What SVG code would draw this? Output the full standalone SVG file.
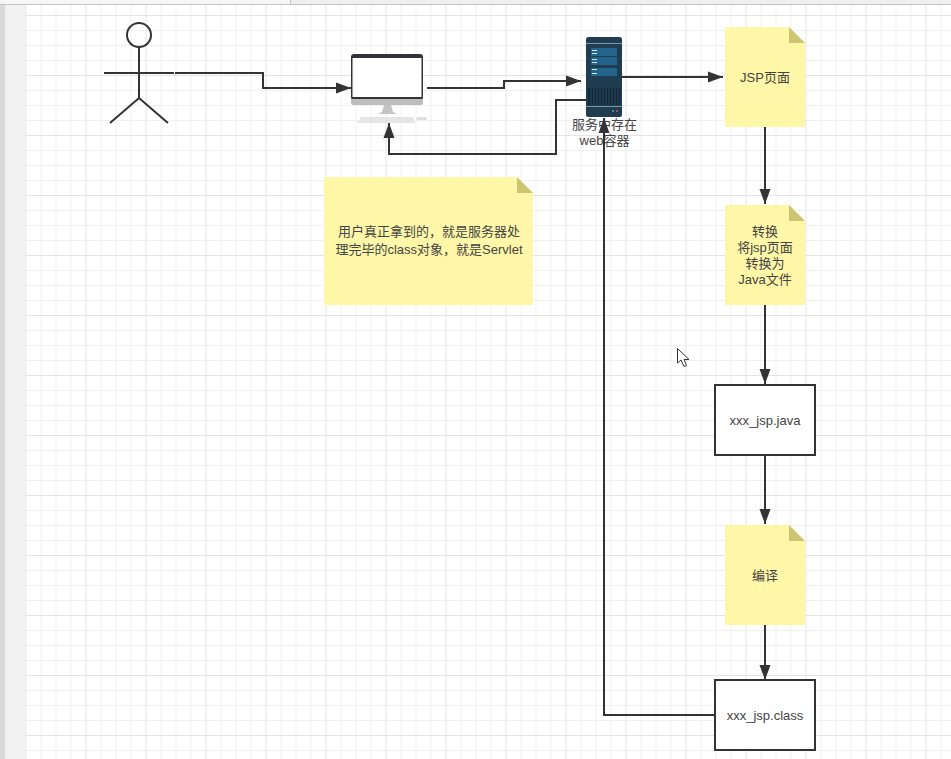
<svg xmlns="http://www.w3.org/2000/svg" width="951" height="759" viewBox="0 0 951 759">
<style>
text{font-family:"Liberation Sans","Noto Sans CJK SC",sans-serif;font-size:13px;fill:#444;text-anchor:middle}
.c{fill:none;stroke:#333;stroke-width:2;marker-end:url(#a)}
.a{fill:none;stroke:#333;stroke-width:2}
.s{fill:#fff7a8}
.f{fill:#ccc673}
.b{fill:#fff;stroke:#333;stroke-width:2}
.p{fill:#22648a}
.m{fill:#d5e3ea}
</style>
<defs>
<pattern id="g" x="25.5" y="0" width="60" height="60" patternUnits="userSpaceOnUse">
<path d="M15.5 0V60M30.5 0V60M45.5 0V60M0 30.5H60M0 45.5H60M0 0.500H60" fill="none" stroke="#f0f0f0" stroke-width="1"/>
<path d="M0.5 0V60M0 15.500H60" fill="none" stroke="#e4e4e4" stroke-width="1"/>
</pattern>
<marker id="a" markerUnits="userSpaceOnUse" markerWidth="16" markerHeight="12" refX="15" refY="6" orient="auto">
<path d="M0 0.500L15 6L0 11.500Z" fill="#333"/>
</marker>
</defs>
<rect width="951" height="759" fill="#fff"/>
<rect x="25" y="4" width="926" height="755" fill="url(#g)"/>
<rect x="5" y="4" width="20" height="755" fill="#f1f1f1"/>
<rect x="0" y="4" width="5" height="755" fill="#d9d9da"/>
<rect width="951" height="4" fill="#efefef"/>
<rect width="290" height="4" fill="#f6f6f6"/>
<path d="M290.500 0V4" stroke="#c8c8c8" stroke-width="1"/>
<path d="M0 4.500H951" stroke="#c4c4c4" stroke-width="1"/>

<g id="connectors">
<path class="c" d="M175 73H263V88H351"/>
<path class="c" d="M427 88H504V81H581"/>
<path class="c" d="M622 77H723"/>
<path class="c" d="M586 100H556V154H389V123"/>
<path class="c" d="M765 127V204"/>
<path class="c" d="M765 305V384"/>
<path class="c" d="M765 455V524"/>
<path class="c" d="M765 625V680"/>
</g>

<g id="actor">
<circle class="a" cx="139" cy="35" r="12"/>
<path class="a" d="M139 47V98M104 73H174M110 123L139 98L168 123"/>
</g>

<g id="monitor">
<rect x="351" y="54" width="72" height="46" rx="3" fill="#333338"/>
<rect x="352.500" y="58" width="69" height="39" fill="#fff"/>
<path d="M351 99H423V103Q423 105 421 105H353Q351 105 351 103Z" fill="#bdbdbd"/>
<path d="M384 105H391L393 112L397 114H378L382 112Z" fill="#c4c4c4"/>
<path d="M361 117H413L415 123H357Z" fill="#e6e6e6"/>
<rect x="416" y="117" width="11" height="3" rx="1.500" fill="#e0e0e0"/>
</g>

<g id="server">
<rect x="586" y="37" width="36" height="80" rx="2.500" fill="#1f3c50"/>
<rect x="586" y="43" width="36" height="1" fill="#7d97a5"/>
<rect class="p" x="591" y="48" width="26" height="8"/>
<rect class="p" x="591" y="57" width="26" height="8"/>
<rect class="p" x="591" y="68" width="26" height="8"/>
<rect class="m" x="592" y="50" width="5" height="1"/>
<rect class="m" x="592" y="53" width="5" height="1"/>
<rect class="m" x="592" y="59" width="5" height="1"/>
<rect class="m" x="592" y="62" width="5" height="1"/>
<rect class="m" x="592" y="69" width="5" height="1"/>
<rect class="m" x="592" y="73" width="5" height="1"/>
<rect x="588" y="88" width="32" height="17" fill="#12293a"/>
<path d="M591 88V105M594 88V105M597 88V105M600 88V105M603 88V105M606 88V105M609 88V105M612 88V105M615 88V105M618 88V105" stroke="#29485c" stroke-width="1"/>
<rect x="586" y="106" width="36" height="1" fill="#7d97a5"/>
<circle cx="613" cy="111" r="1" fill="#4aa"/>
<circle cx="617" cy="111" r="1" fill="#d55"/>
<text x="604.500" y="129">服务中存在</text>
<text x="604.500" y="145">web容器</text>
</g>

<path class="c" d="M715 715H604V118"/>

<g id="note-jsp">
<path class="s" d="M725 27H789L805 43V127H725Z"/>
<path class="f" d="M789 27L805 43H789Z"/>
<text x="765" y="82">JSP页面</text>
</g>
<g id="note-user">
<path class="s" d="M324 177H517L533 193V305H324Z"/>
<path class="f" d="M517 177L533 193H517Z"/>
<text x="429" y="236">用户真正拿到的，就是服务器处</text>
<text x="429" y="254">理完毕的class对象，就是Servlet</text>
</g>
<g id="note-convert">
<path class="s" d="M725 205H789L805 221V305H725Z"/>
<path class="f" d="M789 205L805 221H789Z"/>
<text x="765" y="236">转换</text>
<text x="765" y="252">将jsp页面</text>
<text x="765" y="268">转换为</text>
<text x="765" y="284">Java文件</text>
</g>
<g id="box-java">
<rect class="b" x="715" y="385" width="100" height="70"/>
<text x="765" y="425">xxx_jsp.java</text>
</g>
<g id="note-compile">
<path class="s" d="M725 525H789L805 541V625H725Z"/>
<path class="f" d="M789 525L805 541H789Z"/>
<text x="765" y="580">编译</text>
</g>
<g id="box-class">
<rect class="b" x="715" y="680" width="100" height="70"/>
<text x="765" y="720">xxx_jsp.class</text>
</g>
<path d="M677.500 348.500V363L681 360L684 366.500L686.500 365.500L684 359.500H689Z" fill="#fff" stroke="#333" stroke-width="1"/>
</svg>
